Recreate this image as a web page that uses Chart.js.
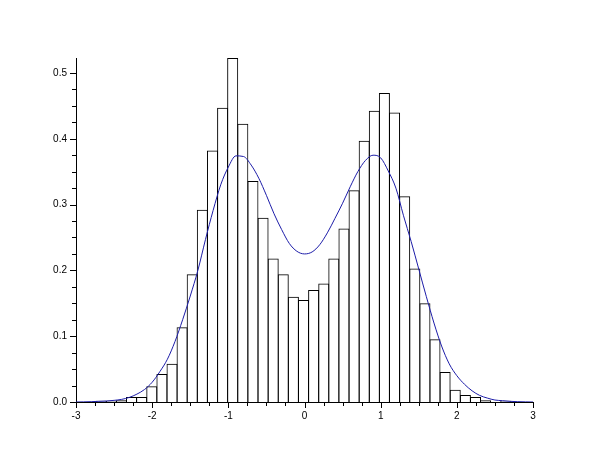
<!DOCTYPE html>
<html lang="en">
<head>
<meta charset="UTF-8">
<title>Histogram</title>
<script src="https://cdn.jsdelivr.net/npm/chart.js"></script>
<style>
    body { margin: 0; background: #fff; }
    #histChart { display: block; }
</style>
</head>
<body>
<canvas id="histChart" width="610" height="460"></canvas>
<script>
// histogram classes (centres) and densities
const binCenters = [-2.669, -2.536, -2.403, -2.271, -2.138, -2.005, -1.872, -1.739, -1.607, -1.474,
    -1.341, -1.208, -1.075, -0.943, -0.810, -0.677, -0.544, -0.411, -0.279, -0.146,
    -0.013, 0.120, 0.253, 0.385, 0.518, 0.651, 0.784, 0.917, 1.049, 1.182,
    1.315, 1.448, 1.581, 1.713, 1.846, 1.979, 2.112, 2.245, 2.377, 2.510, 2.643];
const binDensity = [0.0019, 0.0019, 0.0025, 0.0076, 0.0076, 0.0240, 0.0425, 0.0580, 0.1136, 0.1940,
    0.2920, 0.3820, 0.4470, 0.5227, 0.4227, 0.3358, 0.2800, 0.2180, 0.1940, 0.1600,
    0.1550, 0.1700, 0.1800, 0.2180, 0.2636, 0.3217, 0.3970, 0.4424, 0.4697, 0.4398,
    0.3126, 0.2030, 0.1500, 0.0955, 0.0455, 0.0186, 0.0106, 0.0076, 0.0025, 0.0, 0.0019];

// blue density curve
const curveX = [-3.0, -2.9, -2.8, -2.7, -2.6, -2.5, -2.4, -2.3, -2.2, -2.1,
    -2.0, -1.9, -1.8, -1.7, -1.6, -1.5, -1.4, -1.3, -1.2, -1.1,
    -1.0, -0.9, -0.8, -0.7, -0.6, -0.5, -0.4, -0.3, -0.2, -0.1,
    0.0, 0.1, 0.2, 0.3, 0.4, 0.5, 0.6, 0.7, 0.8, 0.9,
    1.0, 1.1, 1.2, 1.3, 1.4, 1.5, 1.6, 1.7, 1.8, 1.9,
    2.0, 2.1, 2.2, 2.3, 2.4, 2.5, 2.6, 2.7, 2.8, 2.9, 3.0];
const curveY = [0.0, 0.0002, 0.0005, 0.001, 0.0015, 0.0025, 0.004, 0.007, 0.012, 0.019,
    0.030, 0.046, 0.065, 0.092, 0.125, 0.161, 0.200, 0.247, 0.291, 0.330,
    0.357, 0.374, 0.373, 0.360, 0.340, 0.314, 0.286, 0.262, 0.241, 0.229,
    0.225, 0.228, 0.239, 0.257, 0.279, 0.302, 0.327, 0.350, 0.367, 0.375,
    0.371, 0.351, 0.325, 0.283, 0.244, 0.202, 0.160, 0.120, 0.085, 0.058,
    0.040, 0.027, 0.017, 0.010, 0.006, 0.003, 0.002, 0.001, 0.0005, 0.0002, 0.0];

const xTickValues = [-3, -2, -1, 0, 1, 2, 3];
const xTickLabels = ['-3', '-2', '-1', '0', '1', '2', '3'];
const yTickValues = [0, 0.1, 0.2, 0.3, 0.4, 0.5];
const yTickLabels = ['0.0', '0.1', '0.2', '0.3', '0.4', '0.5'];

// small outward tick marks, 4 sub-intervals per labelled step
const axisTicks = {
    id: 'axisTicks',
    afterDraw(chart) {
        const {ctx, scales: {x, y}} = chart;
        ctx.save();
        ctx.strokeStyle = '#000';
        ctx.lineWidth = 1;
        ctx.beginPath();
        for (let i = 0; i <= 24; i++) {
            const px = Math.round(x.getPixelForValue(-3 + i * 0.25)) + 0.5;
            const len = i % 4 === 0 ? 6 : 4;
            ctx.moveTo(px, x.top);
            ctx.lineTo(px, x.top + len);
        }
        for (let i = 0; i * 0.025 <= y.max + 1e-9; i++) {
            const py = Math.round(y.getPixelForValue(i * 0.025)) + 0.5;
            const len = i % 4 === 0 ? 6 : 4;
            ctx.moveTo(y.right, py);
            ctx.lineTo(y.right - len, py);
        }
        ctx.stroke();
        ctx.restore();
    }
};

const lastBar = binCenters.length - 1;

new Chart(document.getElementById('histChart'), {
    type: 'bar',
    data: {
        datasets: [{
            type: 'line',
            data: curveX.map((v, i) => ({x: v, y: curveY[i]})),
            borderColor: '#1c1ca8',
            borderWidth: 1,
            pointRadius: 0,
            cubicInterpolationMode: 'monotone',
            order: 0
        }, {
            type: 'bar',
            data: binCenters.map((v, i) => ({x: v, y: binDensity[i]})),
            backgroundColor: 'rgba(255,255,255,0)',
            borderColor: '#000',
            borderWidth: 1,
            borderSkipped: 'start',
            barPercentage: 1,
            categoryPercentage: 1.099, // neighbours share one outline
            order: 1
        }]
    },
    options: {
        responsive: false,
        animation: false,
        devicePixelRatio: 1,
        layout: { padding: { left: 0, right: 77, top: 58, bottom: 0 } },
        plugins: { legend: { display: false }, tooltip: { enabled: false } },
        scales: {
            x: {
                type: 'linear',
                min: -3,
                max: 3,
                offset: false,
                grid: { display: false, drawTicks: false },
                border: { display: true, color: '#000', width: 1 },
                afterBuildTicks: (s) => { s.ticks = xTickValues.map(v => ({value: v})); },
                afterFit: (s) => { s.height = 58; },
                ticks: {
                    autoSkip: false,
                    maxRotation: 0,
                    padding: 8,
                    color: '#000',
                    font: { family: 'Liberation Sans', size: 10 },
                    callback: (v, i) => xTickLabels[i]
                }
            },
            y: {
                min: 0,
                max: Math.max(...binDensity),
                grid: { display: false, drawTicks: false },
                border: { display: true, color: '#000', width: 1 },
                afterBuildTicks: (s) => { s.ticks = yTickValues.map(v => ({value: v})); },
                afterFit: (s) => { s.width = 76; },
                ticks: {
                    autoSkip: false,
                    padding: 9,
                    color: '#000',
                    font: { family: 'Liberation Sans', size: 10 },
                    callback: (v, i) => yTickLabels[i]
                }
            }
        }
    },
    plugins: [axisTicks]
});
</script>
</body>
</html>
